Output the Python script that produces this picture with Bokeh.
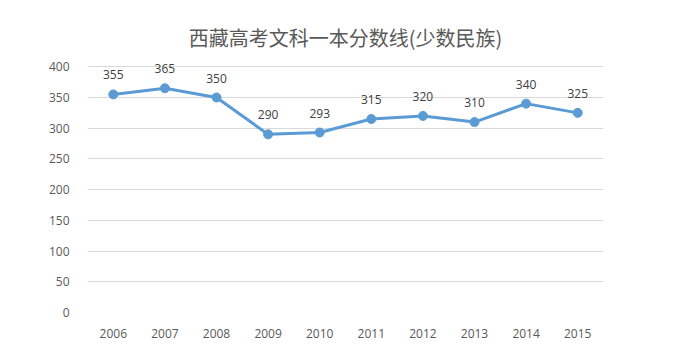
from bokeh.plotting import figure
from bokeh.models import ColumnDataSource, FixedTicker, Range1d
from bokeh.core.properties import value
from bokeh.embed import file_html
from bokeh.resources import INLINE

years = ["2006", "2007", "2008", "2009", "2010", "2011", "2012", "2013", "2014", "2015"]
scores = [355, 365, 350, 290, 293, 315, 320, 310, 340, 325]
y_ticks = [0, 50, 100, 150, 200, 250, 300, 350, 400]
title_text = "西藏高考文科一本分数线(少数民族)"

src = ColumnDataSource(dict(x=years, y=scores, label=[str(v) for v in scores]))

p = figure(width=672, height=343, x_range=years, y_range=Range1d(0, 420),
           output_backend="svg", toolbar_location=None,
           min_border_left=87, min_border_right=69, min_border_top=54, min_border_bottom=31)

p.title.text = title_text
p.title.align = "center"
p.title.text_font = "Noto Sans CJK SC"
p.title.text_font_size = "20px"
p.title.text_font_style = "normal"
p.title.text_color = "#595959"
p.title.offset = 0
p.title.standoff = 6

p.outline_line_color = None
p.background_fill_color = "white"
p.border_fill_color = "white"

p.xgrid.grid_line_color = None
p.ygrid.grid_line_color = "#D9D9D9"
p.ygrid.grid_line_width = 1

p.yaxis.ticker = FixedTicker(ticks=y_ticks)
for ax in (p.xaxis[0], p.yaxis[0]):
    ax.axis_line_color = None
    ax.major_tick_line_color = None
    ax.minor_tick_line_color = None
    ax.major_label_text_font = "Open Sans"
    ax.major_label_text_font_size = "12px"
    ax.major_label_text_color = "#595959"
p.yaxis.major_label_standoff = 12
p.xaxis.major_label_standoff = 10

p.line("x", "y", source=src, line_color="#5B9BD5", line_width=3)
p.scatter("x", "y", source=src, size=9, fill_color="#5B9BD5", line_color="#5B9BD5")
p.text("x", "y", text="label", source=src, text_align="center", text_baseline="bottom",
       y_offset=-15, text_font=value("Open Sans"), text_font_size="12px", text_color="#404040")

open("out.html", "w").write(file_html(p, INLINE))
